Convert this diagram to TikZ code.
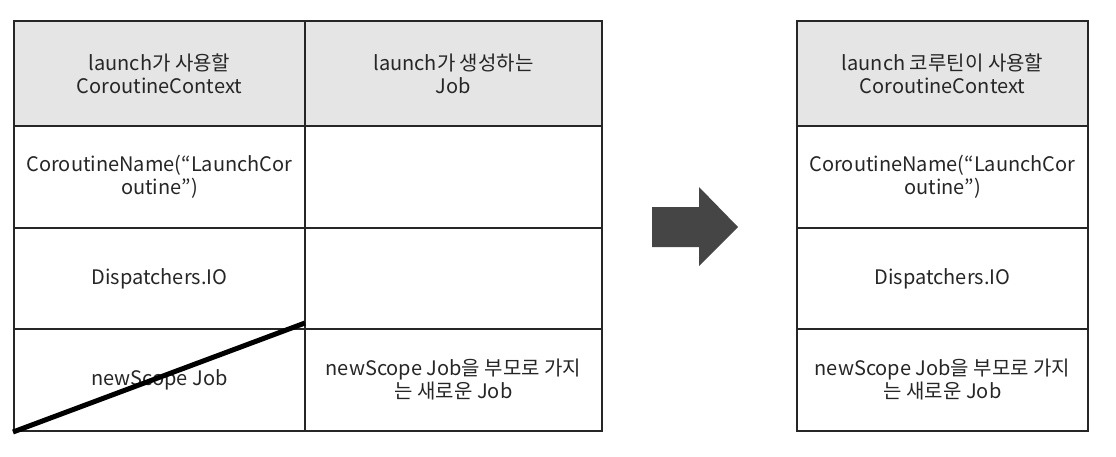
\documentclass[tikz,border=0pt]{standalone}
\usepackage{fontspec}
\setmainfont{Noto Sans CJK KR}
\begin{document}
\begin{tikzpicture}[x=1pt,y=-1pt,
  cell/.style={draw=black!85,line width=2pt,anchor=north west,inner sep=0pt,
    align=center,font=\fontsize{20}{23}\selectfont,text=black!85},
  hdr/.style={cell,fill=black!10},
  bigarrow/.style={fill=black!73,draw=none}]
\useasboundingbox (0,0) rectangle (1116,456);
% left table
\node[hdr,minimum width=291pt,minimum height=105pt] (l11) at (13,20) {launch가 사용할\\CoroutineContext};
\node[hdr,minimum width=297pt,minimum height=105pt] (l12) at (304,20) {launch가 생성하는\\Job};
\node[cell,minimum width=291pt,minimum height=102pt] (l21) at (13,125) {CoroutineName(“LaunchCor\\outine”)};
\node[cell,minimum width=297pt,minimum height=102pt] (l22) at (304,125) {};
\node[cell,minimum width=291pt,minimum height=101pt] (l31) at (13,227) {Dispatchers.IO};
\node[cell,minimum width=297pt,minimum height=101pt] (l32) at (304,227) {};
\node[cell,minimum width=291pt,minimum height=102pt] (l41) at (13,328) {newScope Job};
\node[cell,minimum width=297pt,minimum height=102pt] (l42) at (304,328) {newScope Job을 부모로 가지\\는 새로운 Job};
\draw[line width=5pt,black] (l41.south west) -- ([yshift=5pt,xshift=-1pt]l41.north east);
% arrow
\path[bigarrow] (652,207) coordinate (a1) -- (699,207) -- (699,187) -- (738,227) -- (699,266) -- (699,247) -- (652,247) -- cycle;
% right table
\node[hdr,minimum width=291pt,minimum height=105pt] (r1) at (796,20) {launch 코루틴이 사용할\\CoroutineContext};
\node[cell,minimum width=291pt,minimum height=102pt] (r2) at (796,125) {CoroutineName(“LaunchCor\\outine”)};
\node[cell,minimum width=291pt,minimum height=101pt] (r3) at (796,227) {Dispatchers.IO};
\node[cell,minimum width=291pt,minimum height=102pt] (r4) at (796,328) {newScope Job을 부모로 가지\\는 새로운 Job};
\end{tikzpicture}
\end{document}
